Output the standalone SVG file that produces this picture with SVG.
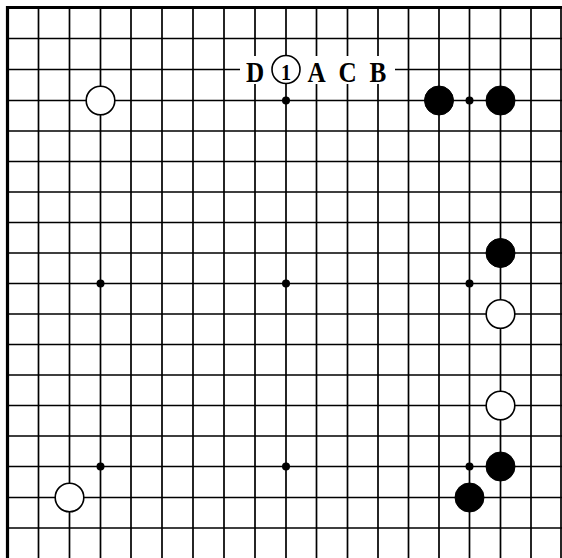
<svg xmlns="http://www.w3.org/2000/svg" width="562" height="558" viewBox="0 0 562 558">
<style>
.g{stroke:#000;stroke-width:1.7;fill:none}
.b{stroke:#000;stroke-width:3.2;fill:none}
.star{fill:#000}
.bs{fill:#000;stroke:#000;stroke-width:1}
.ws{fill:#fff;stroke:#000;stroke-width:1.6}
.lbl{font-family:"Liberation Serif","Times New Roman",serif;font-weight:bold;font-size:30px;fill:#000;text-anchor:middle}
</style>
<rect x="0" y="0" width="562" height="558" fill="#fff"/>
<g id="grid">
<path class="g" d="M38.5 7.5V558M69.5 7.5V558M100.5 7.5V558M131 7.5V558M162 7.5V558M193 7.5V558M224 7.5V558M255 7.5V558M286 7.5V558M316.5 7.5V558M347.5 7.5V558M378 7.5V558M408.5 7.5V558M439 7.5V558M469.5 7.5V558M500.5 7.5V558M531 7.5V558M561 7.5V558"/>
<path class="g" d="M7.5 38.5H562M7.5 69.5H562M7.5 100.5H562M7.5 131H562M7.5 161.5H562M7.5 192H562M7.5 222.5H562M7.5 253H562M7.5 283.5H562M7.5 314H562M7.5 344.5H562M7.5 375H562M7.5 405.5H562M7.5 436H562M7.5 466.5H562M7.5 497.5H562M7.5 528H562"/>
<path class="b" d="M7.5 558V7.5H562"/>
</g>
<g id="stars">
<circle class="star" cx="286" cy="100.5" r="4"/>
<circle class="star" cx="469.5" cy="100.5" r="4"/>
<circle class="star" cx="100.5" cy="283.5" r="4"/>
<circle class="star" cx="286" cy="283.5" r="4"/>
<circle class="star" cx="469.5" cy="283.5" r="4"/>
<circle class="star" cx="100.5" cy="466.5" r="4"/>
<circle class="star" cx="286" cy="466.5" r="4"/>
<circle class="star" cx="469.5" cy="466.5" r="4"/>
</g>
<g id="labels">
<rect x="240" y="56" width="155" height="28" fill="#fff"/>
<text class="lbl" transform="translate(255 81.5) scale(0.84 1)">D</text>
<g id="move1">
<circle cx="286" cy="69.5" r="14" fill="#fff" stroke="#000" stroke-width="1.6"/>
<text class="lbl" transform="translate(286 80) scale(0.84 1)" style="font-size:24px">1</text>
</g>
<text class="lbl" transform="translate(316.5 81.5) scale(0.84 1)">A</text>
<text class="lbl" transform="translate(347.5 81.5) scale(0.84 1)">C</text>
<text class="lbl" transform="translate(378 81.5) scale(0.84 1)">B</text>
</g>
<g id="w_c3r3"><circle class="ws" cx="100.5" cy="100.5" r="14.3"/></g>
<g id="b_c14r3"><circle class="bs" cx="439" cy="100.5" r="14.5"/></g>
<g id="b_c16r3"><circle class="bs" cx="500.5" cy="100.5" r="14.5"/></g>
<g id="b_c16r8"><circle class="bs" cx="500.5" cy="253" r="14.5"/></g>
<g id="w_c16r10"><circle class="ws" cx="500.5" cy="314" r="14.3"/></g>
<g id="w_c16r13"><circle class="ws" cx="500.5" cy="405.5" r="14.3"/></g>
<g id="b_c16r15"><circle class="bs" cx="500.5" cy="466.5" r="14.5"/></g>
<g id="b_c15r16"><circle class="bs" cx="469.5" cy="497.5" r="14.5"/></g>
<g id="w_c2r16"><circle class="ws" cx="69.5" cy="497.5" r="14.3"/></g>
</svg>
